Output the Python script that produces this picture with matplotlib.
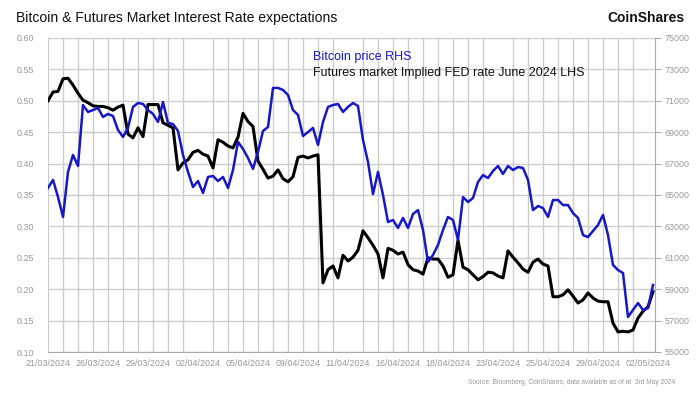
import matplotlib
matplotlib.use("Agg")
import matplotlib.pyplot as plt
import numpy as np

date_labels = ["21/03/2024", "26/03/2024", "29/03/2024", "02/04/2024", "05/04/2024",
               "09/04/2024", "11/04/2024", "16/04/2024", "18/04/2024", "23/04/2024",
               "25/04/2024", "29/04/2024", "02/05/2024"]

fed_rate = [0.500, 0.514, 0.515, 0.535, 0.536, 0.525, 0.512, 0.501, 0.497, 0.492,
            0.491, 0.491, 0.489, 0.485, 0.490, 0.493, 0.447, 0.441, 0.457, 0.443,
            0.494, 0.494, 0.494, 0.465, 0.461, 0.457, 0.390, 0.401, 0.406, 0.418,
            0.421, 0.415, 0.412, 0.393, 0.438, 0.434, 0.428, 0.425, 0.442, 0.480,
            0.467, 0.459, 0.404, 0.391, 0.377, 0.380, 0.390, 0.376, 0.371, 0.379,
            0.410, 0.412, 0.409, 0.412, 0.414, 0.210, 0.231, 0.237, 0.218, 0.254,
            0.245, 0.251, 0.262, 0.293, 0.282, 0.270, 0.256, 0.218, 0.265, 0.262,
            0.256, 0.259, 0.239, 0.231, 0.229, 0.224, 0.250, 0.248, 0.248, 0.237,
            0.219, 0.223, 0.278, 0.235, 0.231, 0.223, 0.215, 0.220, 0.227, 0.226,
            0.221, 0.218, 0.261, 0.251, 0.242, 0.232, 0.227, 0.243, 0.248, 0.240,
            0.237, 0.188, 0.188, 0.191, 0.199, 0.189, 0.178, 0.183, 0.194, 0.186,
            0.181, 0.180, 0.180, 0.146, 0.132, 0.133, 0.132, 0.135, 0.154, 0.165,
            0.172, 0.196]

btc_price = [65450, 65960, 64870, 63600, 66470, 67550, 66850, 70730, 70290, 70410,
             70540, 69970, 70160, 70030, 69140, 68700, 69270, 70610, 70860, 70800,
             70410, 70160, 69650, 70920, 69590, 69520, 69080, 67550, 66470, 65510,
             65890, 65130, 66150, 66210, 65890, 66150, 65450, 66590, 68380, 67930,
             67360, 66660, 67740, 69080, 69330, 71820, 71820, 71690, 71370, 70410,
             70100, 68760, 69010, 69270, 68190, 69650, 70610, 70730, 70800, 70290,
             70610, 70860, 70670, 68500, 67100, 65060, 66470, 65000, 63280, 63410,
             62900, 63540, 62900, 63790, 64040, 62770, 60730, 61180, 61820, 62770,
             63600, 63410, 62130, 64870, 64550, 64810, 65830, 66270, 66080, 66530,
             66850, 66340, 66850, 66590, 66780, 66720, 65960, 64040, 64300, 64170,
             63600, 64680, 64680, 64360, 64360, 63850, 63540, 62450, 62320, 62710,
             63090, 63730, 62450, 60540, 60220, 60030, 57230, 57680, 58120, 57680,
             57800, 59270]

FONT = "Liberation Sans"
GRID = "#cccccc"
TICK = "#999999"
BLUE = "#1717c9"

fig = plt.figure(figsize=(7, 3.94), dpi=100)
ax = fig.add_axes([48/700, 42/394, (655-48)/700, (352-38)/394])
ax2 = ax.twinx()

x = np.arange(len(fed_rate))
ax.plot(x, fed_rate, color="black", lw=2.2, zorder=3)
ax2.plot(x, btc_price, color=BLUE, lw=1.8, zorder=4)

ax.set_xlim(0, 121.4)
ax.set_ylim(0.10, 0.60)
ax2.set_ylim(55000, 75000)

ax.set_yticks(np.arange(0.10, 0.601, 0.05))
ax.set_yticklabels([f"{v:.2f}" for v in np.arange(0.10, 0.601, 0.05)])
ax2.set_yticks(np.arange(55000, 75001, 2000))
ax2.set_yticklabels([str(v) for v in range(55000, 75001, 2000)])

ax.set_xticks(np.arange(0, 121, 10))
ax.set_xticklabels(date_labels)
ax.set_xticks(np.arange(0, 121, 3), minor=True)

ax.grid(True, which="minor", axis="x", color=GRID, lw=1.0)
ax.grid(True, which="major", axis="y", color=GRID, lw=1.0)
ax.set_axisbelow(True)

for a in (ax, ax2):
    for s in a.spines.values():
        s.set_visible(False)
ax.spines["left"].set_visible(True)
ax.spines["left"].set_color(GRID)
ax.spines["bottom"].set_visible(True)
ax.spines["bottom"].set_color("#aaaaaa")
ax2.spines["right"].set_visible(True)
ax2.spines["right"].set_color("#aaaaaa")

ax.tick_params(axis="x", which="both", length=0, pad=5, labelsize=6.4, labelcolor=TICK)
ax.tick_params(axis="y", length=0, pad=10, labelsize=6.4, labelcolor=TICK)
ax2.tick_params(axis="y", length=4, color="#aaaaaa", pad=3, labelsize=6.4, labelcolor=TICK)
for lab in ax.get_xticklabels() + ax.get_yticklabels() + ax2.get_yticklabels():
    lab.set_fontfamily(FONT)

fig.text(16/700, 1 - 18/394, "Bitcoin & Futures Market Interest Rate expectations",
         fontsize=10.1, family=FONT, color="#111111", va="center", ha="left")
fig.text(685/700, 1 - 18/394, "CoinShares", fontsize=10, family=FONT,
         fontweight="bold", color="#111111", va="center", ha="right")
fig.text(313/700, 1 - 57/394, "Bitcoin price RHS", fontsize=9, family=FONT,
         color=BLUE, va="center", ha="left")
fig.text(313/700, 1 - 73/394, "Futures market Implied FED rate June 2024 LHS",
         fontsize=9, family=FONT, color="#111111", va="center", ha="left")
fig.text(675/700, 1 - 383/394,
         "Source: Bloomberg, CoinShares, data available as of at  3rd May 2024",
         fontsize=4.8, family=FONT, color="#999999", va="center", ha="right")

fig.savefig("out.png", dpi=100)
